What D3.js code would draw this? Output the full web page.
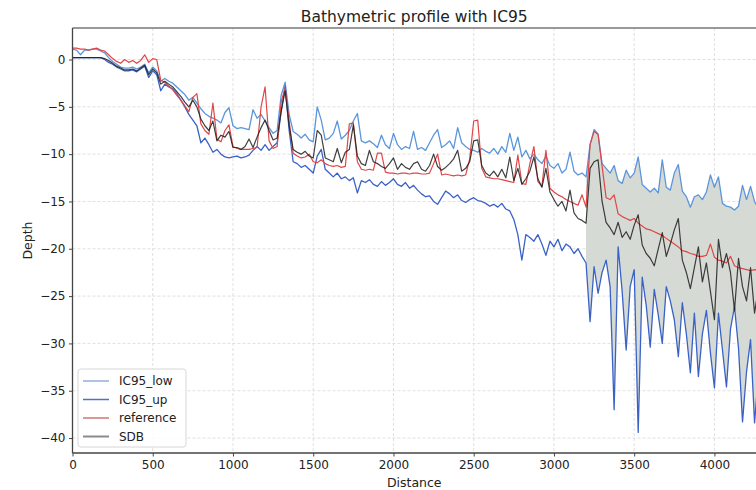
<!DOCTYPE html>
<html><head><meta charset="utf-8">
<script src="https://cdn.jsdelivr.net/npm/d3@7"></script>
<style>body{margin:0;background:#fff} svg{display:block} text{font-family:"DejaVu Sans",sans-serif;fill:#222}</style>
</head><body><svg id="c" width="756" height="490"></svg>
<script>
const distance = [0,25,50,75,100,125,150,175,200,225,250,275,300,325,350,375,400,425,450,475,
500,525,550,575,600,625,650,675,700,725,750,775,800,825,850,875,900,925,950,975,
1000,1025,1050,1075,1100,1125,1150,1175,1200,1225,1250,1275,1300,1325,1350,1375,1400,1425,1450,1475,
1500,1525,1550,1575,1600,1625,1650,1675,1700,1725,1750,1775,1800,1825,1850,1875,1900,1925,1950,1975,
2000,2025,2050,2075,2100,2125,2150,2175,2200,2225,2250,2275,2300,2325,2350,2375,2400,2425,2450,2475,
2500,2525,2550,2575,2600,2625,2650,2675,2700,2725,2750,2775,2800,2825,2850,2875,2900,2925,2950,2975,
3000,3025,3050,3075,3100,3125,3150,3175,3200,3225,3250,3275,3300,3325,3350,3375,3400,3425,3450,3475,
3500,3525,3550,3575,3600,3625,3650,3675,3700,3725,3750,3775,3800,3825,3850,3875,3900,3925,3950,3975,
4000,4025,4050,4075,4100,4125,4150,4175,4200,4225,4250,4275];

const reference = [1.2,1.2,1.1,1.1,1.0,1.1,1.2,1.0,0.9,0.5,0.1,-0.2,-0.4,0.0,-0.3,-0.1,-0.4,-0.1,0.5,-0.3,
0.1,0.0,-2.2,-2.4,-2.8,-3.2,-3.8,-4.3,-4.9,-5.5,-4.0,-3.6,-6.8,-7.5,-7.9,-4.6,-8.4,-8.7,-7.5,-6.9,
-9.2,-9.4,-9.5,-9.5,-9.5,-9.4,-9.3,-5.0,-2.9,-8.6,-9.4,-9.2,-4.5,-3.0,-6.5,-9.9,-10.2,-10.4,-10.3,-10.0,
-10.8,-10.9,-10.6,-11.0,-11.2,-11.3,-11.2,-11.4,-11.3,-6.8,-6.7,-10.8,-11.6,-11.7,-11.6,-11.7,-9.9,-9.9,-11.9,-12.0,
-12.0,-12.1,-12.0,-12.0,-12.1,-12.0,-12.0,-12.1,-12.1,-12.0,-11.0,-10.0,-12.2,-12.1,-12.2,-12.3,-12.2,-12.3,-12.2,-10.5,
-6.5,-6.4,-11.5,-12.4,-12.5,-12.6,-12.6,-12.7,-12.8,-12.9,-13.0,-10.1,-13.1,-13.2,-11.0,-9.2,-12.9,-13.4,-9.6,-13.6,
-14.0,-14.3,-14.5,-14.8,-15.0,-15.2,-15.4,-14.3,-15.6,-9.0,-7.6,-7.9,-11.3,-14.6,-14.8,-14.3,-16.3,-16.6,-16.8,-17.0,
-16.8,-17.3,-17.6,-17.9,-18.0,-18.2,-18.4,-18.6,-18.9,-19.2,-19.5,-19.8,-20.2,-20.3,-20.5,-20.6,-20.8,-20.8,-20.7,-19.5,
-20.9,-21.2,-21.3,-21.5,-20.8,-21.8,-22.0,-22.1,-22.2,-22.3,-22.2,-22.3];

const sdb = [0.2,0.2,0.2,0.2,0.2,0.2,0.2,0.2,0.1,-0.1,-0.4,-0.7,-0.9,-1.1,-1.1,-1.0,-1.2,-0.9,-0.6,-1.6,
-1.0,-1.4,-2.6,-2.3,-2.6,-2.9,-3.4,-3.9,-4.5,-5.0,-4.3,-5.0,-6.3,-7.0,-7.5,-6.5,-8.6,-8.0,-8.2,-7.6,
-9.3,-9.3,-9.5,-9.2,-8.4,-9.3,-8.2,-7.2,-6.4,-7.5,-8.5,-8.3,-5.5,-3.3,-7.0,-9.5,-9.8,-10.0,-9.7,-10.2,
-10.4,-7.5,-8.0,-10.4,-10.6,-10.8,-9.4,-10.9,-9.8,-9.5,-6.9,-10.2,-11.0,-11.2,-9.6,-10.8,-11.0,-11.3,-11.5,-11.0,
-10.4,-11.6,-11.0,-11.4,-11.6,-11.0,-10.8,-11.6,-11.8,-11.2,-10.0,-11.3,-11.7,-11.4,-11.0,-10.5,-9.6,-11.8,-11.5,-10.8,
-8.6,-8.5,-11.2,-12.0,-12.3,-11.8,-12.4,-11.6,-12.5,-10.3,-12.8,-11.5,-13.2,-12.6,-11.8,-10.3,-12.6,-13.5,-11.5,-14.0,
-14.8,-15.5,-15.0,-16.0,-13.8,-16.2,-16.8,-17.0,-17.3,-11.5,-10.8,-10.6,-15.0,-17.2,-17.8,-18.5,-17.2,-18.8,-18.2,-19.0,
-17.5,-16.4,-19.6,-20.5,-21.0,-21.8,-20.0,-18.3,-20.8,-19.5,-18.0,-16.8,-21.2,-22.5,-24.2,-22.0,-19.8,-23.5,-21.5,-24.5,
-27.5,-19.0,-22.0,-20.5,-22.5,-26.5,-21.0,-24.0,-25.5,-22.0,-26.8,-24.0];

const ic95Low = [1.1,1.0,0.5,1.0,1.0,1.1,1.1,0.9,0.7,0.2,-0.2,-0.5,-0.8,-0.9,-0.9,-0.8,-1.0,-0.8,-0.5,-1.4,
-0.8,-1.2,-2.3,-2.0,-2.3,-2.5,-2.9,-3.3,-3.7,-4.3,-4.0,-4.6,-5.2,-5.7,-6.0,-6.2,-6.4,-6.7,-5.6,-5.1,
-7.0,-7.3,-7.2,-7.3,-7.4,-5.3,-6.2,-5.8,-6.5,-7.2,-7.8,-7.5,-3.8,-2.4,-5.8,-7.6,-7.9,-8.3,-7.9,-8.5,
-8.7,-5.0,-6.4,-8.5,-8.3,-7.8,-6.5,-8.4,-8.0,-7.5,-6.5,-5.7,-8.6,-8.8,-8.6,-8.9,-9.3,-8.0,-9.0,-9.4,
-7.8,-9.0,-9.5,-9.2,-9.4,-7.6,-9.5,-9.3,-9.6,-8.8,-8.0,-7.4,-9.3,-9.0,-8.6,-9.4,-7.2,-8.8,-9.2,-9.5,
-9.6,-9.8,-9.4,-9.7,-9.9,-9.4,-10.0,-9.2,-9.8,-7.8,-9.6,-8.2,-10.3,-9.6,-10.5,-10.0,-10.6,-11.0,-10.2,-11.2,
-11.5,-11.0,-12.0,-11.6,-9.8,-11.8,-12.2,-12.0,-12.4,-9.0,-7.4,-7.9,-11.0,-11.5,-12.0,-11.2,-12.8,-13.1,-11.7,-12.5,
-12.0,-10.3,-13.2,-13.6,-14.0,-13.6,-14.1,-10.6,-13.5,-13.8,-12.0,-11.1,-13.9,-14.5,-15.6,-14.5,-14.3,-14.8,-14.0,-12.2,
-13.5,-12.4,-15.2,-15.5,-15.6,-15.9,-15.5,-13.3,-14.8,-13.4,-15.0,-15.8];

const ic95Up = [0.2,0.2,0.2,0.2,0.2,0.2,0.2,0.2,0.0,-0.3,-0.5,-0.8,-1.0,-1.2,-1.2,-1.1,-1.3,-1.0,-0.7,-1.9,
-1.2,-1.6,-3.3,-2.6,-2.9,-3.1,-3.6,-4.3,-5.0,-5.8,-6.4,-7.0,-8.8,-8.3,-9.0,-9.8,-9.5,-10.0,-10.3,-10.4,
-10.3,-10.2,-10.4,-10.3,-10.1,-9.6,-9.2,-9.6,-9.0,-9.6,-9.2,-8.8,-5.5,-2.8,-7.5,-10.8,-11.0,-11.4,-11.2,-11.6,
-12.0,-10.2,-9.5,-11.6,-12.0,-12.4,-12.0,-12.6,-12.4,-12.8,-12.5,-14.1,-12.8,-13.0,-12.7,-13.2,-13.4,-12.9,-13.3,-13.0,
-12.6,-13.2,-13.4,-13.0,-13.6,-13.3,-13.8,-14.2,-14.5,-14.4,-15.0,-15.3,-14.6,-13.9,-14.2,-14.6,-14.3,-14.9,-15.1,-14.8,
-14.6,-14.9,-15.0,-15.2,-15.5,-15.3,-15.6,-15.2,-15.8,-16.0,-16.9,-18.5,-21.2,-18.5,-18.8,-19.2,-18.5,-19.5,-20.7,-19.2,
-19.8,-19.0,-20.2,-19.5,-19.8,-20.5,-20.0,-20.8,-21.5,-27.7,-21.9,-24.7,-22.5,-21.2,-24.0,-37.0,-19.8,-24.5,-30.7,-24.0,
-22.2,-39.4,-23.0,-26.0,-30.4,-24.3,-27.0,-30.0,-24.0,-25.5,-27.5,-31.4,-25.7,-29.0,-33.1,-26.8,-33.5,-29.0,-26.5,-31.0,
-34.7,-26.8,-30.7,-34.6,-28.5,-26.1,-30.5,-38.3,-33.0,-29.6,-38.4,-33.0];

const xTicks = [0,500,1000,1500,2000,2500,3000,3500,4000];
const yTicks = [0,-5,-10,-15,-20,-25,-30,-35,-40];
const fillFrom = 3200;
const seriesNames = ["IC95_low","IC95_up","reference","SDB"];

const svg = d3.select("#c");
const L = 72.5, R = 756, T = 28, B = 453;
const x = d3.scaleLinear().domain([0, 4259]).range([L, R]);
const y = d3.scaleLinear().domain([-41.58, 3.33]).range([B, T]);

svg.append("defs").append("clipPath").attr("id","clip")
  .append("rect").attr("x",L).attr("y",T).attr("width",R-L).attr("height",B-T);

// grid
const grid = svg.append("g");
grid.selectAll(".gx").data(xTicks).join("line")
  .attr("x1",d=>x(d)).attr("x2",d=>x(d)).attr("y1",T).attr("y2",B)
  .attr("stroke","#d8d8d8").attr("stroke-width",0.8).attr("stroke-dasharray","3,2");
grid.selectAll(".gy").data(yTicks).join("line")
  .attr("y1",d=>y(d)).attr("y2",d=>y(d)).attr("x1",L).attr("x2",R)
  .attr("stroke","#d8d8d8").attr("stroke-width",0.8).attr("stroke-dasharray","3,2");

const data = distance.map((d,i)=>({d, ref:reference[i], sdb:sdb[i], lo:ic95Low[i], up:ic95Up[i]}));
const plot = svg.append("g").attr("clip-path","url(#clip)");

const area = d3.area().x(p=>x(p.d)).y0(p=>y(p.up)).y1(p=>y(p.lo));
plot.append("path").datum(data.filter(p=>p.d>=fillFrom)).attr("d",area)
  .attr("fill","#d6dad5");

const mk = key => d3.line().x(p=>x(p.d)).y(p=>y(p[key]));
plot.append("path").datum(data).attr("d",mk("lo")).attr("fill","none")
  .attr("stroke","#5b95dc").attr("stroke-width",1.3).attr("stroke-linejoin","round");
plot.append("path").datum(data).attr("d",mk("up")).attr("fill","none")
  .attr("stroke","#3a62c6").attr("stroke-width",1.3).attr("stroke-linejoin","round");
plot.append("path").datum(data).attr("d",mk("ref")).attr("fill","none")
  .attr("stroke","#e04646").attr("stroke-width",1.2).attr("stroke-linejoin","round");
plot.append("path").datum(data).attr("d",mk("sdb")).attr("fill","none")
  .attr("stroke","#1e1e1e").attr("stroke-width",1.2).attr("stroke-opacity",0.85).attr("stroke-linejoin","round");

// axes
const xAxis = svg.append("g").attr("transform",`translate(0,${B})`)
  .call(d3.axisBottom(x).tickValues(xTicks).tickSize(3.5).tickPadding(3.5).tickFormat(d3.format("d")));
const yAxis = svg.append("g").attr("transform",`translate(${L},0)`)
  .call(d3.axisLeft(y).tickValues(yTicks).tickSize(3.5).tickPadding(3.5));
[xAxis,yAxis].forEach(g=>{
  g.select(".domain").remove();
  g.selectAll("line").attr("stroke","#444");
  g.selectAll("text").attr("font-size",12).attr("fill","#222").attr("font-family","DejaVu Sans");
});

// spines
svg.append("line").attr("x1",L).attr("x2",R).attr("y1",T).attr("y2",T).attr("stroke","#777").attr("stroke-width",1.3);
svg.append("line").attr("x1",L).attr("x2",R).attr("y1",B).attr("y2",B).attr("stroke","#444").attr("stroke-width",1.3);
svg.append("line").attr("x1",L).attr("x2",L).attr("y1",T).attr("y2",B).attr("stroke","#444").attr("stroke-width",1.3);

// titles
svg.append("text").attr("x",(L+R)/2).attr("y",22).attr("text-anchor","middle")
  .attr("font-size",15.5).text("Bathymetric profile with IC95");
svg.append("text").attr("x",(L+R)/2).attr("y",487).attr("text-anchor","middle")
  .attr("font-size",12.5).text("Distance");
svg.append("text").attr("transform",`translate(32,${(T+B)/2}) rotate(-90)`).attr("text-anchor","middle")
  .attr("font-size",12.5).text("Depth");

// legend
const lg = svg.append("g");
lg.append("rect").attr("x",78).attr("y",369).attr("width",108).attr("height",78).attr("rx",3)
  .attr("fill","#fff").attr("fill-opacity",0.85).attr("stroke","#d6d6d6");
const legColors = ["#7fa2d6","#5470c4","#c96060","#8a8a8a"];
const legWidths = [1.3,1.5,1.3,2];
seriesNames.forEach((n,i)=>{
  const yy = 381 + i*18.5;
  lg.append("line").attr("x1",83).attr("x2",109).attr("y1",yy).attr("y2",yy)
    .attr("stroke",legColors[i]).attr("stroke-width",legWidths[i]);
  lg.append("text").attr("x",119).attr("y",yy+4.3).attr("font-size",12).text(n);
});
</script></body></html>
